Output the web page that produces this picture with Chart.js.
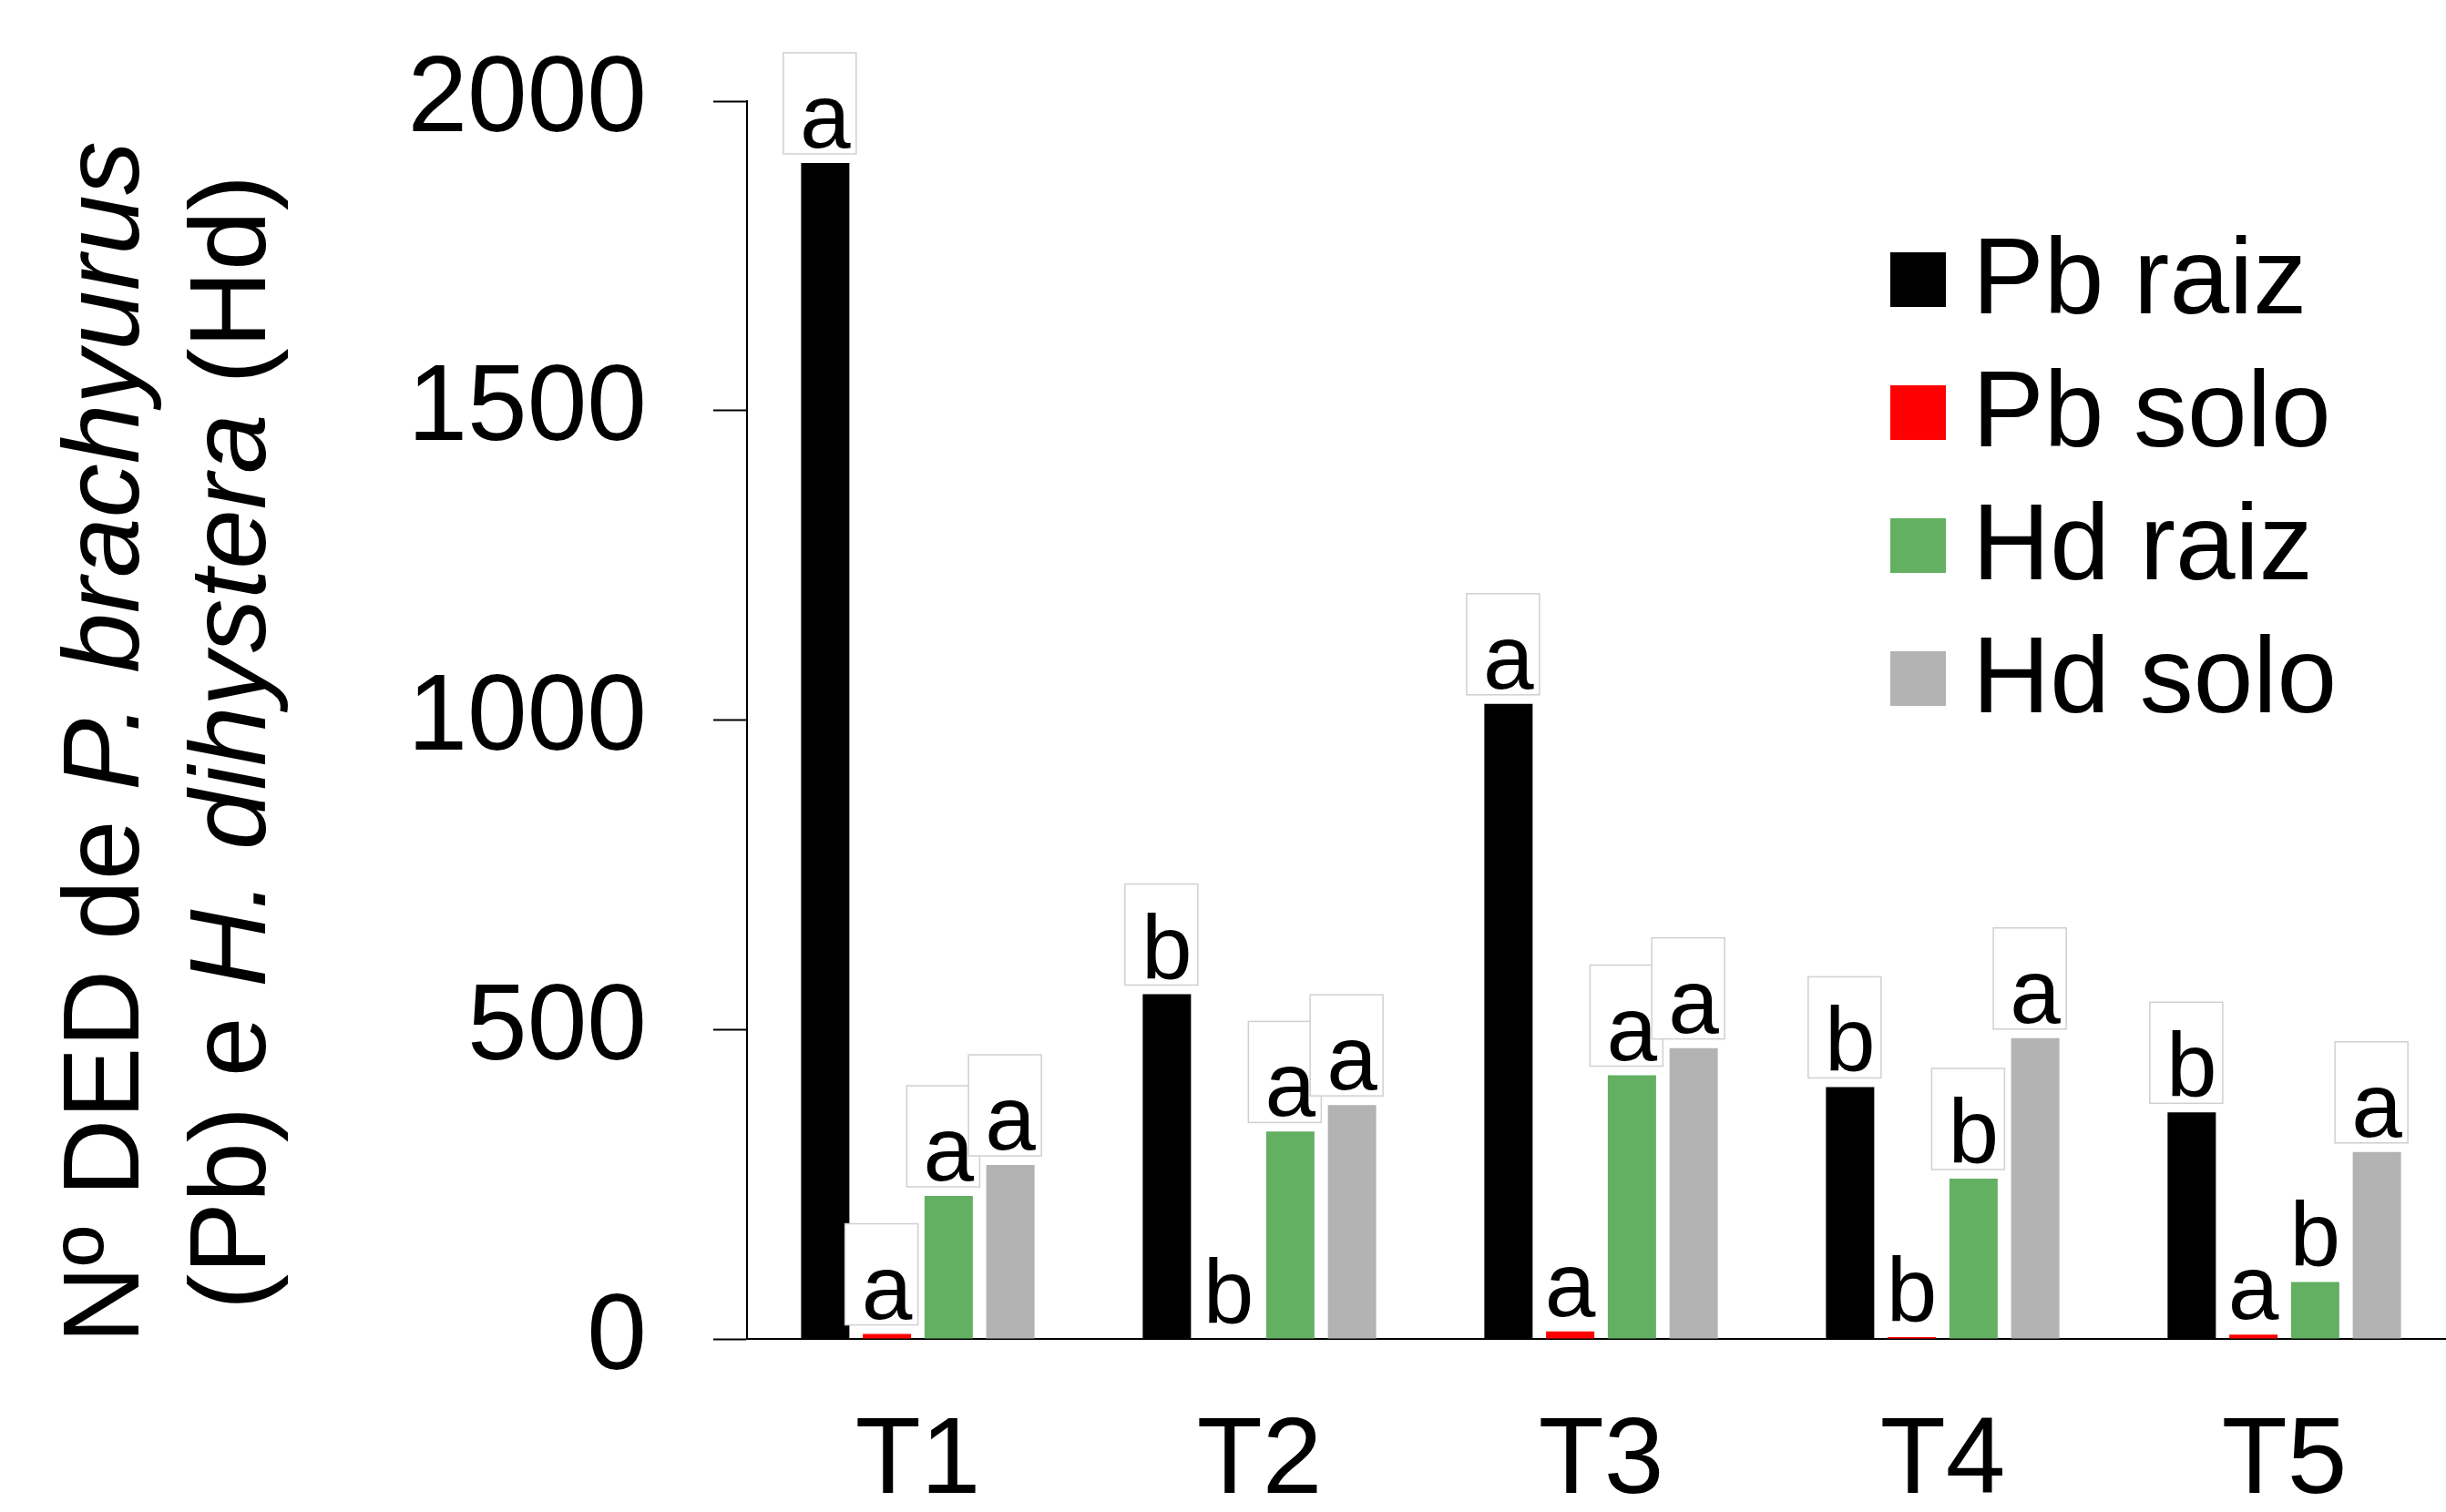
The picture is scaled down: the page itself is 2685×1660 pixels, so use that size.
<!DOCTYPE html>
<html>
<head>
<meta charset="utf-8">
<script src="https://cdn.jsdelivr.net/npm/chart.js@4"></script>
<style>
  html, body { margin: 0; padding: 0; background: #fff; overflow: hidden; }
  #wrap { width: 2700px; height: 1660px; }
</style>
</head>
<body>
<div id="wrap"><canvas id="chart" width="2700" height="1660"></canvas></div>
<script>
// Data
const categories = ['T1', 'T2', 'T3', 'T4', 'T5'];
const seriesNames = ['Pb raiz', 'Pb solo', 'Hd raiz', 'Hd solo'];

const pbRaiz = [1900, 557, 1026, 407, 366];
const pbSolo = [8, 0, 12, 3, 7];
const hdRaiz = [231, 335, 426, 259, 92];
const hdSolo = [281, 378, 470, 486, 302];

// Letters of the mean comparison test
const pbRaizLetters = ['a', 'b', 'a', 'b', 'b'];
const pbSoloLetters = ['a', 'b', 'a', 'b', 'a'];
const hdRaizLetters = ['a', 'a', 'a', 'b', 'b'];
const hdSoloLetters = ['a', 'a', 'a', 'a', 'a'];

// Which letters sit in a framed box
const pbRaizFramed = [true, true, true, true, true];
const pbSoloFramed = [true, false, false, false, false];
const hdRaizFramed = [true, true, true, true, false];
const hdSoloFramed = [true, true, true, true, true];

const yTicks = [0, 500, 1000, 1500, 2000];

const FONT = "'Liberation Sans', Arial, sans-serif";
const colors = ['#000000', '#ff0000', '#63b063', '#b3b3b3'];

// Letters above the bars (boxes first, then text)
const lettersPlugin = {
    id: 'letters',
    afterDatasetsDraw(chart) {
        const ctx = chart.ctx;
        ctx.save();
        chart.data.datasets.forEach((ds, i) => {
            chart.getDatasetMeta(i).data.forEach((bar, j) => {
                if (!ds.framed[j]) return;
                const base = bar.y - 17;
                ctx.fillStyle = '#ffffff';
                ctx.strokeStyle = '#d0d0d0';
                ctx.lineWidth = 1.5;
                ctx.fillRect(bar.x - 46, base - 104, 80, 111);
                ctx.strokeRect(bar.x - 46, base - 104, 80, 111);
            });
        });
        ctx.font = '100px ' + FONT;
        ctx.textAlign = 'center';
        ctx.textBaseline = 'alphabetic';
        ctx.fillStyle = '#000';
        chart.data.datasets.forEach((ds, i) => {
            chart.getDatasetMeta(i).data.forEach((bar, j) => {
                ctx.fillText(ds.letters[j], bar.x, bar.y - 17);
            });
        });
        ctx.restore();
    }
};

// Legend and two-line y title with italic species names
const decorPlugin = {
    id: 'decor',
    afterDraw(chart) {
        const ctx = chart.ctx;
        ctx.save();

        // legend
        ctx.textAlign = 'left';
        ctx.textBaseline = 'alphabetic';
        ctx.font = '118px ' + FONT;
        seriesNames.forEach((name, i) => {
            ctx.fillStyle = colors[i];
            ctx.fillRect(2075, 277 + 146 * i, 61, 60);
            ctx.fillStyle = '#000';
            ctx.fillText(name, 2165, 344 + 146 * i);
        });

        // y title
        const lines = [
            { x: 152, parts: [['Nº DED de ', false], ['P. brachyurus', true]] },
            { x: 291, parts: [['(Pb) e ', false], ['H. dihystera', true], [' (Hd)', false]] }
        ];
        lines.forEach(line => {
            let total = 0;
            line.parts.forEach(p => {
                ctx.font = (p[1] ? 'italic ' : '') + '118px ' + FONT;
                total += ctx.measureText(p[0]).width;
            });
            ctx.save();
            ctx.translate(line.x, 815);
            ctx.rotate(-Math.PI / 2);
            let cx = -total / 2;
            line.parts.forEach(p => {
                ctx.font = (p[1] ? 'italic ' : '') + '118px ' + FONT;
                ctx.fillStyle = '#000';
                ctx.fillText(p[0], cx, 0);
                cx += ctx.measureText(p[0]).width;
            });
            ctx.restore();
        });

        ctx.restore();
    }
};

const ctx = document.getElementById('chart').getContext('2d');

new Chart(ctx, {
    type: 'bar',
    data: {
        labels: categories,
        datasets: [
            { label: seriesNames[0], data: pbRaiz, backgroundColor: colors[0], letters: pbRaizLetters, framed: pbRaizFramed },
            { label: seriesNames[1], data: pbSolo, backgroundColor: colors[1], letters: pbSoloLetters, framed: pbSoloFramed },
            { label: seriesNames[2], data: hdRaiz, backgroundColor: colors[2], letters: hdRaizLetters, framed: hdRaizFramed },
            { label: seriesNames[3], data: hdSolo, backgroundColor: colors[3], letters: hdSoloLetters, framed: hdSoloFramed }
        ]
    },
    options: {
        responsive: false,
        animation: false,
        categoryPercentage: 0.7227,
        barPercentage: 0.7823,
        layout: { padding: { top: 111, right: 5, left: 0, bottom: 0 } },
        plugins: {
            legend: { display: false },
            tooltip: { enabled: false }
        },
        scales: {
            x: {
                grid: { display: false, drawTicks: false },
                border: { display: true, color: '#000', width: 2 },
                ticks: {
                    color: '#000',
                    padding: 66,
                    font: { family: FONT, size: 118 }
                },
                afterFit(axis) {
                    axis.height = 190;
                    axis.paddingLeft = 0;
                    axis.paddingRight = 0;
                }
            },
            y: {
                min: 0,
                max: 2000,
                afterBuildTicks(axis) { axis.ticks = yTicks.map(v => ({ value: v })); },
                grid: {
                    drawOnChartArea: false,
                    drawTicks: true,
                    tickLength: 37,
                    tickWidth: 2,
                    tickColor: '#000'
                },
                border: { display: true, color: '#000', width: 2 },
                ticks: {
                    color: '#000',
                    padding: 73,
                    font: { family: FONT, size: 118 },
                    callback: value => String(value)
                },
                afterFit(axis) {
                    axis.width = 820;
                    axis.paddingTop = 0;
                    axis.paddingBottom = 0;
                }
            }
        }
    },
    plugins: [lettersPlugin, decorPlugin]
});
</script>
</body>
</html>
